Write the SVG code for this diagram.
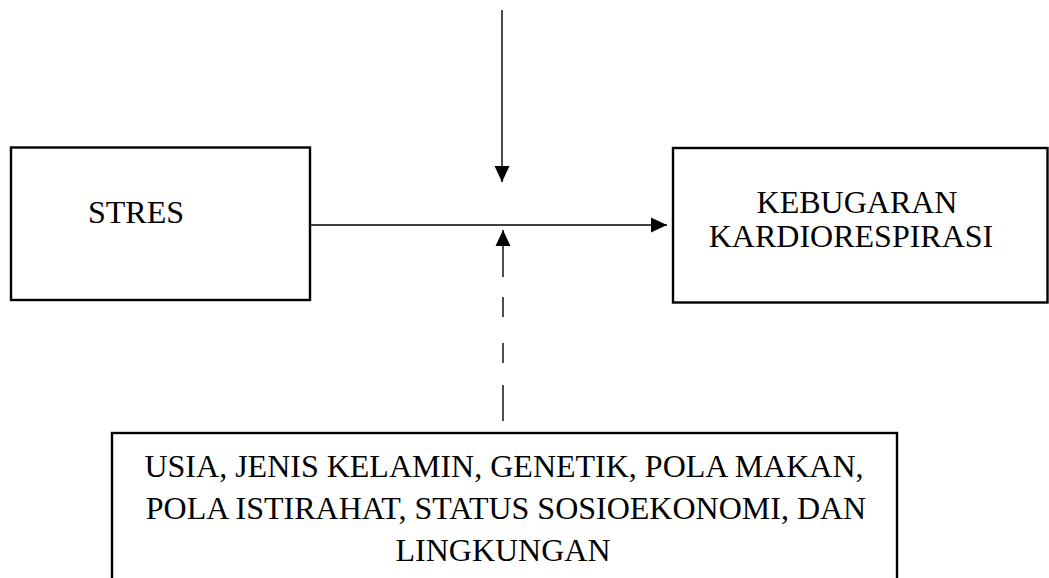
<svg xmlns="http://www.w3.org/2000/svg" width="1049" height="578" viewBox="0 0 1049 578">
<style>
.box{fill:#fff;stroke:#000;stroke-width:2.4}
.t{font-family:"Liberation Serif","Times New Roman",serif;font-size:32px;fill:#000}
.c{stroke:#000;stroke-width:1.4;fill:none}
</style>
<defs>
<marker id="ah" markerUnits="userSpaceOnUse" markerWidth="16" markerHeight="16" viewBox="0 0 16 16" refX="16" refY="8" orient="auto">
<path d="M0,0.5 L16,8 L0,15.5 Z" fill="#000"/>
</marker>
</defs>
<rect width="1049" height="578" fill="#fff"/>
<g id="node-stres">
<rect class="box" x="11" y="147.5" width="299" height="152.5"/>
<text class="t" x="88" y="223">STRES</text>
</g>
<g id="node-kebugaran">
<rect class="box" x="673" y="148" width="374.5" height="154.5"/>
<text class="t" x="857" y="213" text-anchor="middle">KEBUGARAN</text>
<text class="t" x="851" y="247" text-anchor="middle">KARDIORESPIRASI</text>
</g>
<g id="node-faktor">
<rect class="box" x="112" y="433" width="785" height="160"/>
<text class="t" x="504" y="477" text-anchor="middle">USIA, JENIS KELAMIN, GENETIK, POLA MAKAN,</text>
<text class="t" x="506" y="519" text-anchor="middle">POLA ISTIRAHAT, STATUS SOSIOEKONOMI, DAN</text>
<text class="t" x="503" y="561" text-anchor="middle">LINGKUNGAN</text>
</g>
<g id="connectors">
<line class="c" x1="502" y1="10" x2="502" y2="182" marker-end="url(#ah)"/>
<line class="c" x1="311" y1="225" x2="667" y2="225" marker-end="url(#ah)"/>
<line class="c" x1="503" y1="277" x2="503" y2="230" marker-end="url(#ah)"/>
<line class="c" x1="503" y1="297" x2="503" y2="317"/>
<line class="c" x1="503" y1="343" x2="503" y2="363"/>
<line class="c" x1="503" y1="385" x2="503" y2="421"/>
</g>
</svg>
